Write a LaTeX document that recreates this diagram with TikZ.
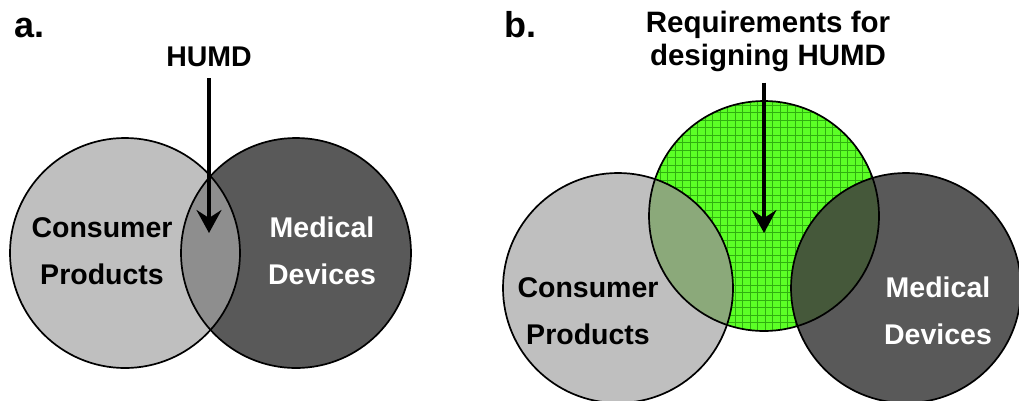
\documentclass[tikz,border=0pt]{standalone}
\usepackage{fontspec}
\setmainfont{Liberation Sans}
\usetikzlibrary{arrows.meta}
\definecolor{lightg}{HTML}{BFBFBF}
\definecolor{darkg}{HTML}{595959}
\definecolor{midg}{HTML}{8E8E8E}
\definecolor{brightgreen}{HTML}{5CFF26}
\definecolor{gridgreen}{HTML}{30B010}
\definecolor{cgreen}{HTML}{8BA97A}
\definecolor{mgreen}{HTML}{45583A}
\begin{document}
\begin{tikzpicture}[x=1pt,y=-1pt,
  outline/.style={draw=black,line width=1.7pt},
  lbl/.style={font=\fontsize{28.5}{47}\selectfont\bfseries,align=center,inner sep=0pt},
  ttl/.style={font=\fontsize{28.5}{33}\selectfont\bfseries,align=center,inner sep=0pt},
  ttlb/.style={font=\fontsize{29.5}{33}\selectfont\bfseries,align=center,inner sep=0pt},
  panel/.style={font=\fontsize{36}{36}\selectfont\bfseries,inner sep=0pt,anchor=base west},
  arr/.style={line width=3.2pt,-{Stealth[length=23pt,width=25pt,inset=8pt]}}]
\useasboundingbox (0,0) rectangle (1019,400);
% ---------- panel a ----------
\fill[lightg] (125,253) circle (115pt);
\fill[darkg] (296,253) circle (115pt);
\begin{scope}
  \clip (125,253) circle (115pt);
  \fill[midg] (296,253) circle (115pt);
\end{scope}
\draw[outline] (125,253) circle (115pt);
\draw[outline] (296,253) circle (115pt);
\node[panel] (pa) at (14,37) {a.};
\node[ttl] (humd) at (209,57) {HUMD};
\coordinate (tipA) at (209,233);
\draw[arr] ([yshift=-11pt]humd.south) -- (tipA);
\node[lbl] (cpA) at (102,251) {Consumer\\Products};
\node[lbl,text=white] (mdA) at (322,251) {Medical\\Devices};
% ---------- panel b ----------
\fill[lightg] (618,288) circle (115pt);
\fill[darkg] (906,288) circle (115pt);
\begin{scope}
  \clip (764,216) circle (115pt);
  \fill[brightgreen] (640,95) rectangle (890,340);
  \draw[gridgreen,line width=1pt,step=7.5pt] (640,95) grid (890,340);
  \fill[cgreen] (618,288) circle (115pt);
  \fill[mgreen] (906,288) circle (115pt);
\end{scope}
\draw[outline] (618,288) circle (115pt);
\draw[outline] (906,288) circle (115pt);
\draw[outline] (764,216) circle (115pt);
\node[panel] (pb) at (504,37) {b.};
\node[ttlb] (req) at (768,41) {Requirements for\\designing HUMD};
\coordinate (tipB) at (764,233);
\draw[arr] ([yshift=-11pt]req.south -| tipB) -- (tipB);
\node[lbl] (cpB) at (588,311) {Consumer\\Products};
\node[lbl,text=white] (mdB) at (938,311) {Medical\\Devices};
\end{tikzpicture}
\end{document}
